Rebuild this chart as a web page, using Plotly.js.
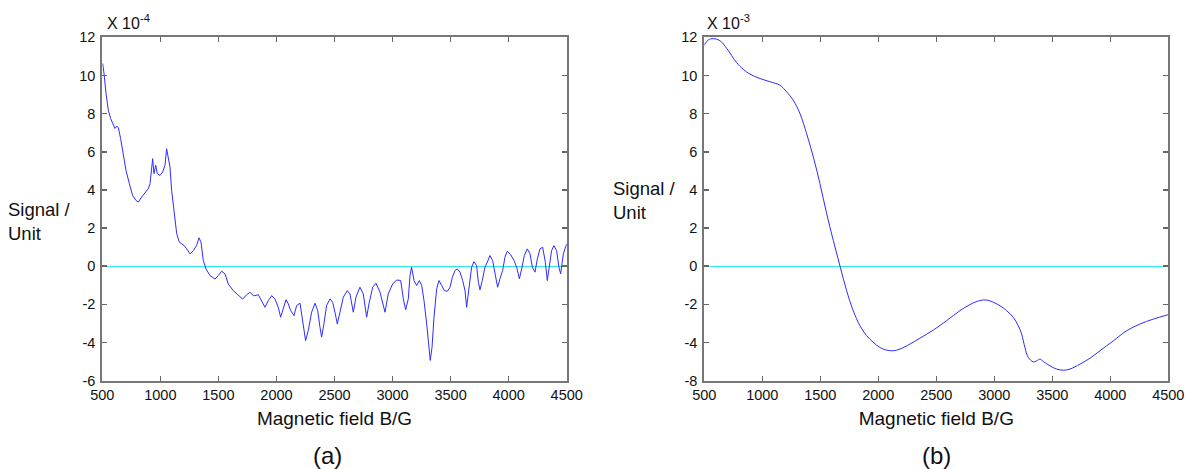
<!DOCTYPE html>
<html>
<head>
<meta charset="utf-8">
<script src="https://cdn.plot.ly/plotly-3.0.1.min.js"></script>
<style>html,body{margin:0;padding:0;background:#fff;}#chart{width:1186px;height:469px;}</style>
</head>
<body>
<div id="chart"></div>
<script>
// Panel (a): magnetic field (G) and signal (x 10^-4)
const fieldA = [503,515,532,552,572,595,609,624,638,658,681,704,733,761,790,810,839,868,896,911,925,934,945,960,974,997,1020,1040,1054,1069,1083,1097,1118,1141,1164,1184,1204,1227,1256,1284,1313,1333,1350,1370,1393,1428,1471,1499,1528,1557,1585,1628,1672,1709,1743,1772,1801,1815,1844,1881,1901,1930,1959,1987,2016,2036,2059,2082,2102,2122,2151,2174,2203,2226,2251,2274,2303,2332,2355,2375,2389,2409,2432,2461,2484,2504,2524,2547,2576,2610,2633,2662,2685,2719,2748,2777,2797,2829,2857,2892,2935,2963,3001,3035,3070,3093,3113,3136,3150,3164,3185,3208,3231,3251,3271,3294,3311,3325,3340,3357,3380,3400,3423,3446,3472,3495,3515,3538,3558,3581,3604,3624,3638,3658,3681,3701,3724,3739,3753,3773,3796,3816,3839,3862,3882,3905,3925,3948,3968,3988,4017,4046,4069,4092,4112,4135,4161,4184,4204,4227,4247,4270,4293,4316,4333,4350,4370,4390,4413,4433,4448,4471,4491,4500];
const signalA = [10.63,10.1,9.05,8.18,7.74,7.39,7.22,7.34,7.27,6.69,5.73,5.03,4.33,3.71,3.45,3.36,3.63,3.84,4.06,4.33,5.2,5.64,4.85,5.29,4.85,4.76,4.94,5.29,6.16,5.73,5.2,3.98,2.75,1.7,1.26,1.17,1.09,0.91,0.65,0.82,1.09,1.49,1.26,0.3,-0.14,-0.49,-0.67,-0.49,-0.26,-0.4,-0.93,-1.28,-1.54,-1.72,-1.49,-1.37,-1.54,-1.54,-1.49,-1.97,-2.15,-1.8,-1.54,-1.71,-2.15,-2.67,-2.15,-1.76,-1.97,-2.32,-2.59,-2.06,-1.94,-2.85,-3.9,-3.37,-2.41,-1.94,-2.32,-3.2,-3.72,-3.02,-2.06,-1.71,-1.89,-2.41,-3.02,-2.41,-1.62,-1.28,-1.45,-2.41,-1.62,-1.1,-1.45,-2.67,-1.97,-1.1,-0.89,-1.36,-2.41,-1.45,-0.93,-0.72,-0.75,-1.71,-2.28,-1.7,-0.5,-0.05,-0.75,-1.01,-0.75,-1.01,-1.8,-3.02,-4.16,-4.94,-4.25,-2.67,-1.19,-0.75,-1.01,-1.28,-1.31,-1.1,-0.58,-0.23,-0.14,-0.31,-0.75,-1.28,-2.15,-1.1,-0.05,0.24,0.03,-0.84,-1.24,-0.75,-0.05,0.21,0.56,0.3,-0.31,-1.1,-0.66,-0.23,0.47,0.79,0.61,0.3,-0.05,-0.66,-0.14,0.56,0.91,0.65,-0.05,-0.31,0.38,0.91,1.0,0.21,-0.75,-0.05,0.82,1.08,0.82,-0.05,-0.4,0.65,1.08,1.17];

// Panel (b): magnetic field (G) and signal (x 10^-3), on the drawn axis scale
const fieldB = [500,534,578,635,693,779,836,894,980,1066,1152,1210,1267,1325,1382,1440,1497,1555,1612,1670,1727,1784,1842,1899,1957,2014,2072,2129,2187,2273,2359,2474,2589,2704,2790,2876,2934,2991,3049,3106,3164,3207,3236,3264,3293,3336,3365,3394,3422,3480,3537,3595,3652,3739,3825,3911,4026,4141,4256,4371,4500];
const signalB = [11.6,11.86,11.93,11.82,11.42,10.67,10.32,10.07,9.84,9.67,9.49,9.14,8.7,8.0,6.95,5.73,4.33,2.75,1.35,0,-1.28,-2.33,-3.12,-3.64,-3.99,-4.26,-4.4,-4.43,-4.34,-4.08,-3.77,-3.35,-2.85,-2.33,-2.01,-1.8,-1.77,-1.89,-2.07,-2.33,-2.68,-3.12,-3.56,-4.26,-4.78,-5.01,-4.96,-4.87,-4.99,-5.22,-5.39,-5.45,-5.39,-5.13,-4.82,-4.43,-3.91,-3.38,-3.03,-2.77,-2.54];

const xTicks = [500,1000,1500,2000,2500,3000,3500,4000,4500];
const yTicks = [-6,-4,-2,0,2,4,6,8,10,12];
const yLabelsA = ['-6','-4','-2','0','2','4','6','8','10','12'];
const yLabelsB = ['-8','-4','-2','0','2','4','6','8','10','12'];

const FONT = 'Liberation Sans, Arial, sans-serif';
const W = 1186, H = 469;
const px = v => v / W, py = v => 1 - v / H;

const lineCol = 'rgb(45,45,255)';
const traces = [
  {x: fieldA, y: signalA, xaxis: 'x', yaxis: 'y', type: 'scatter', mode: 'lines', line: {color: lineCol, width: 1}, hoverinfo: 'x+y'},
  {x: fieldB, y: signalB, xaxis: 'x2', yaxis: 'y2', type: 'scatter', mode: 'lines', line: {color: lineCol, width: 1, shape: 'spline'}, hoverinfo: 'x+y'}
];

function xax(domain, anchor) {
  return {
    domain: domain, anchor: anchor, range: [500, 4500],
    tickmode: 'array', tickvals: xTicks, ticktext: xTicks.map(String),
    ticks: 'inside', ticklen: 5, tickwidth: 1.5, tickcolor: '#666',
    showline: true, linecolor: '#777', linewidth: 2, mirror: 'ticks',
    showgrid: false, zeroline: false,
    tickfont: {family: FONT, size: 14.5, color: '#111'},
    title: {text: 'Magnetic field B/G', font: {family: FONT, size: 19, color: '#111'}, standoff: 10}
  };
}
function yax(domain, anchor, labels) {
  return {
    domain: domain, anchor: anchor, range: [-6, 12],
    tickmode: 'array', tickvals: yTicks, ticktext: labels,
    ticks: 'inside', ticklen: 5, tickwidth: 1.5, tickcolor: '#666',
    showline: true, linecolor: '#777', linewidth: 2, mirror: 'ticks',
    showgrid: false, zeroline: true, zerolinecolor: '#2ee6ee', zerolinewidth: 1,
    tickfont: {family: FONT, size: 14.5, color: '#111'}, ticklabelstandoff: 2
  };
}

const yDom = [py(380.7), py(37.3)];
const layout = {
  width: W, height: H,
  margin: {l: 0, r: 0, t: 0, b: 0},
  paper_bgcolor: '#fff', plot_bgcolor: '#fff',
  showlegend: false,
  xaxis: xax([px(102.3), px(566.7)], 'y'),
  yaxis: yax(yDom, 'x', yLabelsA),
  xaxis2: xax([px(704.3), px(1168.3)], 'y2'),
  yaxis2: yax(yDom, 'x2', yLabelsB),
  annotations: [
    {xref: 'paper', yref: 'paper', x: px(105), y: py(34), xanchor: 'left', yanchor: 'bottom', showarrow: false,
     text: 'X 10<sup>-4</sup>', font: {family: FONT, size: 16, color: '#111'}},
    {xref: 'paper', yref: 'paper', x: px(705), y: py(34), xanchor: 'left', yanchor: 'bottom', showarrow: false,
     text: 'X 10<sup>-3</sup>', font: {family: FONT, size: 16, color: '#111'}},
    {xref: 'paper', yref: 'paper', x: px(6), y: py(222), xanchor: 'left', yanchor: 'middle', align: 'left', showarrow: false,
     text: 'Signal /<br>Unit', font: {family: FONT, size: 18.5, color: '#111'}},
    {xref: 'paper', yref: 'paper', x: px(611), y: py(200), xanchor: 'left', yanchor: 'middle', align: 'left', showarrow: false,
     text: 'Signal /<br>Unit', font: {family: FONT, size: 18.5, color: '#111'}},
    {xref: 'paper', yref: 'paper', x: px(327), y: py(455), xanchor: 'center', yanchor: 'middle', showarrow: false,
     text: '(a)', font: {family: FONT, size: 24, color: '#111'}},
    {xref: 'paper', yref: 'paper', x: px(936), y: py(455), xanchor: 'center', yanchor: 'middle', showarrow: false,
     text: '(b)', font: {family: FONT, size: 24, color: '#111'}}
  ]
};

Plotly.newPlot('chart', traces, layout, {displayModeBar: false, staticPlot: true});
</script>
</body>
</html>
